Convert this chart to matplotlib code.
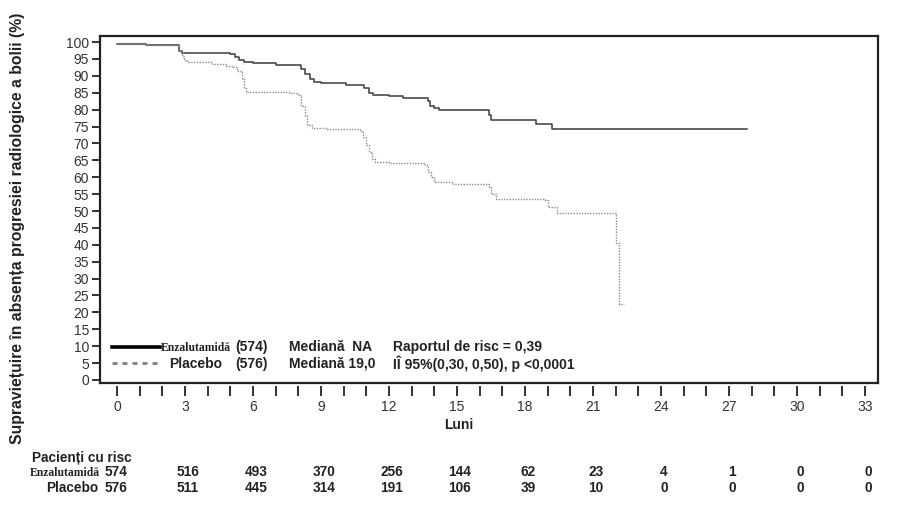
import matplotlib
matplotlib.use("Agg")
import matplotlib.pyplot as plt
from matplotlib.lines import Line2D
from matplotlib import transforms

# ---------------- data ----------------
enza_t = [0, 1.3, 2.75, 2.85, 4.5, 5.0, 5.2, 5.4, 5.6, 6.0, 7.0, 8.1, 8.3, 8.5, 8.7, 9.0,
          10.1, 10.9, 11.1, 11.3, 12.0, 12.6, 13.7, 13.8, 14.0, 14.2, 16.4, 16.5, 18.5, 19.2, 27.8]
enza_s = [99.4, 99.1, 97.5, 96.9, 96.7, 96.4, 95.5, 94.6, 94.1, 93.8, 93.3, 92.0, 90.5, 89.2, 88.3, 87.8,
          87.4, 86.5, 85.0, 84.3, 84.0, 83.5, 82.5, 81.0, 80.6, 80.0, 78.5, 77.0, 75.8, 74.2, 74.2]

plac_t = [0, 1.3, 2.0, 2.75, 2.85, 2.95, 3.1, 4.2, 4.8, 5.1, 5.3, 5.5, 5.6, 5.7, 7.6, 8.0, 8.1, 8.3,
          8.4, 8.6, 9.2, 10.7, 10.85, 11.0, 11.1, 11.25, 11.4, 12.0, 13.6, 13.7, 13.85, 14.0, 14.8,
          16.4, 16.5, 16.7, 18.9, 19.0, 19.4, 22.0, 22.15, 22.35]
plac_s = [99.4, 99.2, 99.0, 97.5, 96.0, 94.8, 94.0, 93.6, 93.0, 92.5, 91.5, 89.0, 86.5, 85.3, 85.0, 84.3, 81.0, 78.0,
          75.5, 74.7, 74.4, 73.8, 72.0, 69.5, 67.5, 65.5, 64.5, 64.1, 63.5, 61.5, 60.0, 58.6, 58.0,
          57.0, 55.0, 53.7, 53.2, 51.3, 49.3, 40.4, 22.6, 22.6]

risk_months = [3, 6, 9, 12, 15, 18, 21, 24, 27, 30, 33]
risk_enza = [516, 493, 370, 256, 144, 62, 23, 4, 1, 0, 0]
risk_plac = [511, 445, 314, 191, 106, 39, 10, 0, 0, 0, 0]
enza_n0 = 574
plac_n0 = 576

x_ticks = list(range(0, 34))
x_labels = [str(m) if m % 3 == 0 else "" for m in x_ticks]
y_ticks = list(range(0, 101, 5))

# ---------------- fonts ----------------
sans = "Liberation Sans"
serif = "Liberation Serif"

W, H = 920, 527
fig = plt.figure(figsize=(W / 100, H / 100), dpi=100)
ax = fig.add_axes([100 / W, 1 - 383 / H, (878 - 100) / W, (383 - 36) / H])

ax.step(enza_t, enza_s, where="post", color="#4a4a4a", lw=1.2)
ax.step(plac_t, plac_s, where="post", color="#8a8a8a", lw=1.0, linestyle=(0, (1, 1)))

ax.set_xlim(-0.75, 33.57)
ax.set_ylim(-0.9, 101.8)
for s in ax.spines.values():
    s.set_linewidth(1.6)
    s.set_color("#222222")

ax.set_yticks(y_ticks)
ax.set_yticklabels([str(v) for v in y_ticks], fontsize=10, color="#333333", family=sans)
ax.tick_params(axis="y", direction="out", length=6, width=1.3, color="#222222", pad=2)

ax.set_xticks([])
sec = ax.secondary_xaxis(-0.008)
sec.spines["bottom"].set_visible(False)
sec.set_xticks(x_ticks)
sec.set_xticklabels(x_labels, fontsize=10, color="#333333", family=sans)
sec.tick_params(axis="x", direction="out", length=7, width=1.3, color="#222222", pad=3)

fig.text(459 / W, 1 - 425 / H, "Luni", ha="center", va="center", fontsize=10,
         fontweight="bold", family=sans, color="#222222")

fig.text(18 / W, 1 - 228 / H, "Supraviețuire în absența progresiei radiologice a bolii (%)",
         rotation=90, ha="center", va="center", fontsize=11.3, fontweight="bold",
         family=sans, color="#222222")

# legend block inside plot
def fx(px):
    return px / W

def fy(py):
    return 1 - py / H

fig.add_artist(Line2D([fx(112), fx(160)], [fy(347), fy(347)], color="black", lw=2.6))
fig.add_artist(Line2D([fx(112), fx(157)], [fy(363), fy(363)], color="#808080", lw=2.0,
                      linestyle=(0, (1.8, 1.8))))
tc = "#222222"
fig.text(fx(161), fy(348), "Enzalutamidă", family=serif, fontweight="bold", fontsize=8.4,
         va="center", ha="left", color=tc)
fig.text(fx(235), fy(347), "(574)", family=sans, fontweight="bold", fontsize=10,
         va="center", ha="left", color=tc)
fig.text(fx(169), fy(364), "Placebo", family=sans, fontweight="bold", fontsize=10,
         va="center", ha="left", color=tc)
fig.text(fx(235), fy(364), "(576)", family=sans, fontweight="bold", fontsize=10,
         va="center", ha="left", color=tc)
fig.text(fx(289), fy(347), "Mediană  NA", family=sans, fontweight="bold", fontsize=10,
         va="center", ha="left", color=tc)
fig.text(fx(289), fy(364), "Mediană 19,0", family=sans, fontweight="bold", fontsize=10,
         va="center", ha="left", color=tc)
fig.text(fx(393), fy(347), "Raportul de risc = 0,39", family=sans, fontweight="bold", fontsize=10,
         va="center", ha="left", color=tc)
fig.text(fx(393), fy(364), "IÎ 95%(0,30, 0,50), p <0,0001", family=sans, fontweight="bold",
         fontsize=10, va="center", ha="left", color=tc)

# risk table
tr = transforms.blended_transform_factory(ax.transData, fig.transFigure)
rk = dict(family=sans, fontweight="bold", fontsize=9.8, va="center", color=tc)
fig.text(fx(32), fy(458), "Pacienți cu risc", ha="left", **rk)
fig.text(fx(100), fy(473), "Enzalutamidă", family=serif, fontweight="bold", fontsize=8.4,
         ha="right", va="center", color=tc)
fig.text(fx(105), fy(472), str(enza_n0), ha="left", **rk)
fig.text(fx(98), fy(488), "Placebo", ha="right", **rk)
fig.text(fx(105), fy(488), str(plac_n0), ha="left", **rk)
for m, a, b in zip(risk_months, risk_enza, risk_plac):
    ax.text(m + 0.13, fy(472), str(a), transform=tr, ha="center", **rk)
    ax.text(m + 0.13, fy(488), str(b), transform=tr, ha="center", **rk)

fig.savefig("out.png", dpi=100, facecolor="white")
